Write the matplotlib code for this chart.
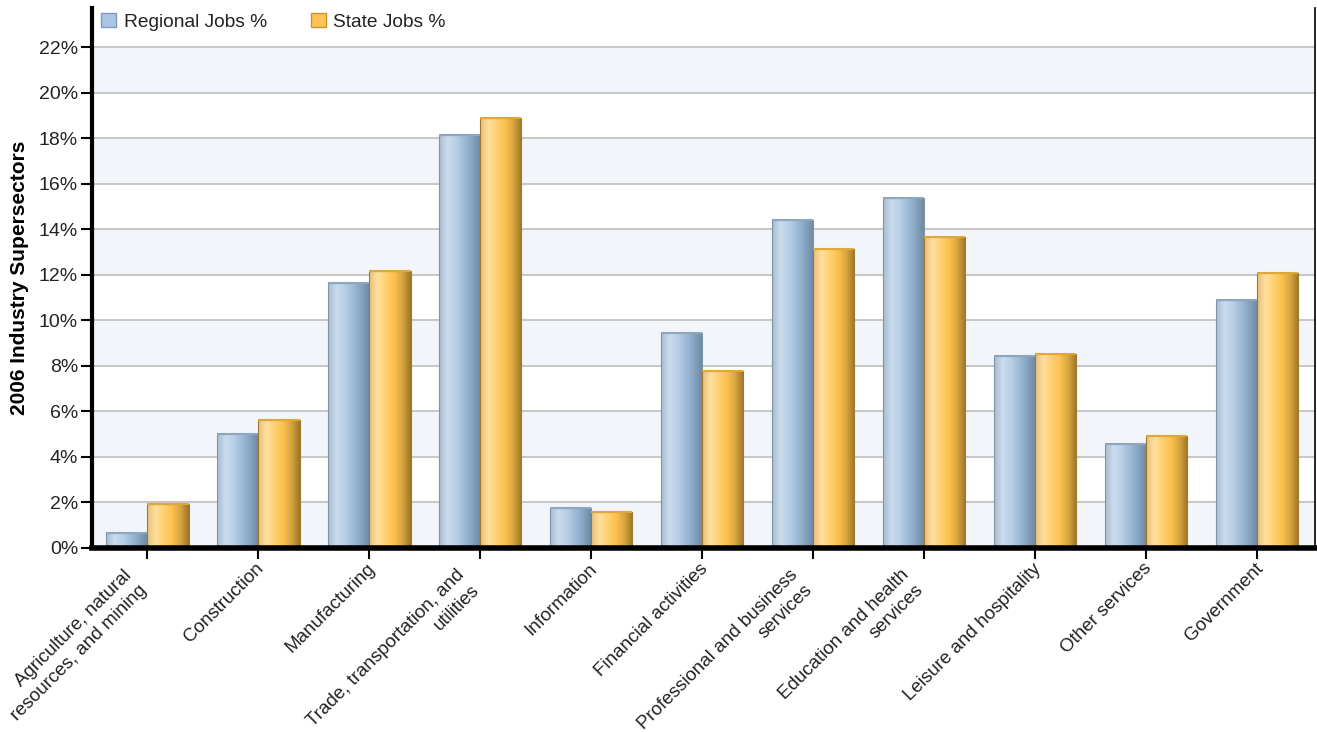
import numpy as np
import matplotlib
matplotlib.use("Agg")
import matplotlib.pyplot as plt
import matplotlib.transforms as mtransforms
from matplotlib.colors import LinearSegmentedColormap
from matplotlib.patches import Patch

categories = [
    "Agriculture, natural\nresources, and mining",
    "Construction",
    "Manufacturing",
    "Trade, transportation, and\nutilities",
    "Information",
    "Financial activities",
    "Professional and business\nservices",
    "Education and health\nservices",
    "Leisure and hospitality",
    "Other services",
    "Government",
]
regional = [0.66, 5.0, 11.64, 18.14, 1.76, 9.44, 14.4, 15.37, 8.43, 4.57, 10.89]
state = [1.93, 5.62, 12.17, 18.88, 1.58, 7.77, 13.13, 13.66, 8.52, 4.92, 12.08]
yticks = [0, 2, 4, 6, 8, 10, 12, 14, 16, 18, 20, 22]
series_names = ["Regional Jobs %", "State Jobs %"]

plt.rcParams['font.family'] = ['Liberation Sans', 'DejaVu Sans']

fig = plt.figure(figsize=(13.17, 7.32), dpi=100)
ax_w = (1315 - 92)
ax = fig.add_axes([92/1317, 1-548/732, ax_w/1317, (548-8)/732])

ymax = 23.72
ax.set_xlim(-0.5, 10.52)
ax.set_ylim(0, ymax)

# alternating bands
for i in range(0, 22, 4):
    ax.axhspan(i, i + 2, color='#f2f5fa', zorder=0, lw=0)
for t in yticks[1:]:
    ax.axhline(t, color='#c8c8c8', lw=1.5, zorder=1)

blue_cmap = LinearSegmentedColormap.from_list(
    'b', ['#a9bccf', '#cadcee', '#b8cfe6', '#9fbbd7', '#86a3bf', '#6d87a0'])
orange_cmap = LinearSegmentedColormap.from_list(
    'o', ['#e8c07a', '#ffdf9e', '#ffd072', '#fcc14d', '#d9a53f', '#9c7628'])

w = 0.37
x = np.arange(len(categories))
grad = np.linspace(0, 1, 64).reshape(1, -1)

def draw(xpos, vals, cmap, edge, top):
    bars = ax.bar(xpos, vals, width=w, color='none', edgecolor=edge, lw=0.8, zorder=3)
    for b in bars:
        x0 = b.get_x(); x1 = x0 + b.get_width(); h = b.get_height()
        im = ax.imshow(grad, cmap=cmap, extent=[x0, x1, 0, h], aspect='auto', zorder=2,
                       interpolation='bilinear')
        im.set_clip_path(b)
        ax.plot([x0, x1], [h, h], color=top, lw=1.5, zorder=4, solid_capstyle='butt')
    return bars

draw(x - w/2, regional, blue_cmap, '#7f95aa', '#8ea7c0')
draw(x + w/2, state, orange_cmap, '#a07a2c', '#e0a838')

ax.set_xlim(-0.5, 10.52)
ax.set_ylim(0, ymax)

ax.set_yticks(yticks)
ax.set_yticklabels([f"{t}%" for t in yticks], fontsize=14, color='#222222')
ax.set_xticks(x)
ax.set_xticklabels([])
ax.tick_params(axis='y', length=8, width=1.5, direction='out', pad=2)
ax.tick_params(axis='x', length=8, width=1.5, direction='out')

# category labels, rotated, anchored under each tick
base = ax.get_xaxis_transform()
for xi, lab in zip(x, categories):
    if '\n' in lab:
        dx, dy = -11, -32
    else:
        dx, dy = 3, -18
    tr = base + mtransforms.ScaledTranslation(dx/100, dy/100, fig.dpi_scale_trans)
    ax.text(xi, 0, lab, transform=tr, rotation=45, rotation_mode='anchor',
            ha='right', va='center', multialignment='right', fontsize=13.5,
            color='#222222', linespacing=1.3, clip_on=False)

ax.spines['top'].set_visible(False)
ax.spines['left'].set_linewidth(3)
ax.spines['bottom'].set_linewidth(4)
ax.spines['right'].set_linewidth(1.2)
for s in ax.spines.values():
    s.set_zorder(5)

ax.set_ylabel("2006 Industry Supersectors", fontsize=15, fontweight='bold')
ax.yaxis.set_label_coords((29 - 92) / ax_w, 0.5)

handles = [Patch(facecolor='#a9c6e6', edgecolor='#7f9bb8', lw=1),
           Patch(facecolor='#fdc455', edgecolor='#c8952c', lw=1)]
leg = ax.legend(handles, series_names, loc='upper left', ncol=2, frameon=False,
                fontsize=13.8, bbox_to_anchor=(9/ax_w, 1 - 5/540), handlelength=0.78,
                handleheight=0.78, handletextpad=0.4, columnspacing=2.3,
                borderaxespad=0, borderpad=0)
for t in leg.get_texts():
    t.set_color('#222222')

fig.savefig("out.png", dpi=100)
